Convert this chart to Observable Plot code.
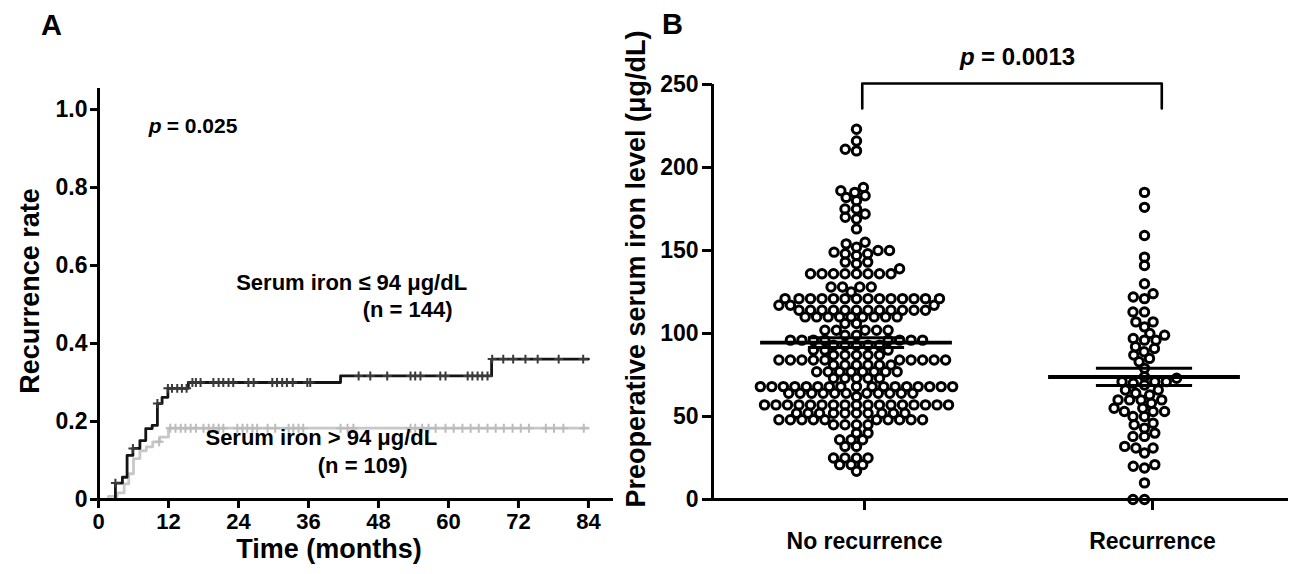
<!DOCTYPE html>
<html><head><meta charset="utf-8">
<script src="https://cdn.jsdelivr.net/npm/d3@7"></script>
<script src="https://cdn.jsdelivr.net/npm/@observablehq/plot@0.6"></script>
<style>
html,body{margin:0;padding:0;background:#fff;}
#wrap{position:relative;width:1293px;height:574px;overflow:hidden;background:#fff;font-family:"Liberation Sans",Arial,sans-serif;}
#a{position:absolute;left:0;top:0;}
#b{position:absolute;left:620px;top:0;}
.lab{position:absolute;font-weight:bold;font-size:29px;line-height:1;}
</style></head><body>
<div id="wrap"><div id="a"></div><div id="b"></div>
<div class="lab" style="left:41px;top:11px;">A</div>
<div class="lab" style="left:662px;top:10px;">B</div>
</div>
<script>
// ---------- Panel A data (Kaplan–Meier cumulative recurrence) ----------
const kmTicksX = [0, 12, 24, 36, 48, 60, 72, 84];
const kmTicksY = [0, 0.2, 0.4, 0.6, 0.8, 1.0];
const lowTime = [0, 2.9, 4.1, 4.9, 5.9, 7.1, 8.1, 9.2, 10.1, 10.9, 11.9, 15.4, 41.5, 67.4, 84];
const lowRate = [0, 0.042, 0.057, 0.113, 0.131, 0.151, 0.182, 0.19, 0.246, 0.262, 0.285, 0.30, 0.317, 0.36, 0.36];
const lowCensor = [2.9, 5.9, 10.1, 11.9, 12.6, 13.5, 14.3, 15.1, 16.1, 16.7, 17.5, 19.7, 20.6, 21.4, 22.3, 23.1, 25.7, 26.6, 29.8, 30.6, 31.5, 32.3, 33.3, 35.8, 36.3, 44.6, 46.6, 49.5, 53.5, 54.3, 55.2, 58.6, 59.5, 63.3, 64.1, 65.0, 65.8, 66.7, 67.5, 69.4, 71.1, 73.2, 75.3, 78.9, 83.1];
const highTime = [0, 1.7, 3.2, 4.4, 5.2, 6.0, 7.1, 8.2, 9.3, 10.5, 12.0, 84];
const highRate = [0, 0.008, 0.017, 0.04, 0.066, 0.105, 0.125, 0.135, 0.148, 0.16, 0.183, 0.183];
const highCensor = [10.4, 12.3, 13.2, 14.1, 14.9, 15.8, 16.7, 18.0, 18.9, 19.7, 20.6, 21.4, 23.8, 24.7, 25.5, 26.4, 27.2, 29.0, 30.3, 32.6, 33.4, 34.3, 35.1, 41.5, 42.7, 43.7, 53.5, 54.3, 55.5, 56.6, 57.8, 59.5, 60.9, 62.4, 63.8, 65.2, 66.7, 68.1, 69.5, 71.0, 72.4, 73.8, 76.7, 78.1, 79.7, 83.2];

// ---------- Panel B data (serum iron, μg/dL) ----------
const groups = ["No recurrence", "Recurrence"];
const ironTicks = [0, 50, 100, 150, 200, 250];
const noRecurrence = [
 223, 216, 211, 210,
 188, 186, 185, 183, 182, 180, 175, 175, 172, 170, 169, 163,
 155, 154, 152, 150, 150, 149, 148, 148, 147,
 143, 143, 142, 139,
 136, 136, 136, 136, 136, 136, 136, 136,
 128, 128, 128, 128,
 125,
 121, 121, 121, 121, 121, 121, 121, 121, 121, 121, 121, 121, 121, 121,
 117, 117, 117,
 114, 114, 114, 114, 114, 114, 114, 114, 114, 114, 114, 114,
 110, 110, 110, 110, 110, 110, 110, 110, 110,
 106, 106,
 102, 102, 102, 102, 102,
 99, 99,
 96, 96, 96, 96, 96, 96, 96, 96,
 93, 93, 93, 93, 93,
 90, 90, 90,
 87, 87, 87, 87, 87,
 84, 84, 84, 84, 84, 84, 84, 84, 84, 84,
 81, 81, 81, 81, 81, 81,
 77, 77, 77, 77, 77, 77, 77, 77,
 73, 73, 73, 73, 73,
 68, 68, 68, 68, 68, 68, 68, 68, 68, 68, 68, 68, 68, 68, 68, 68, 68,
 64, 64, 64, 64, 64, 64, 64, 64, 64, 64, 64,
 62,
 57, 57, 57, 57, 57, 57, 57, 57, 57, 57, 57, 57, 57, 57, 57, 57, 57,
 52, 52, 52, 52, 52, 52, 52, 52, 52, 52,
 48, 48, 48, 48, 48, 48, 48, 48, 48, 48,
 45, 45, 45, 45,
 40, 40,
 36, 36, 36,
 32, 32,
 25, 25, 25, 25,
 21, 21, 21,
 17
];
const recurrence = [185, 176, 159, 146, 141, 130, 124, 122, 121, 113, 113, 107, 107, 104, 100, 99, 97, 96, 96, 92, 91, 89, 87, 85, 83, 79, 74, 73, 71, 71, 71, 70, 69, 66, 66, 64, 63, 60, 60, 60, 60, 58, 55, 55, 53, 53, 53, 50, 50, 46, 45, 43, 40, 38, 38, 32, 31, 31, 28, 21, 20, 19, 10, 0, 0];
const groupMean = [94.5, 73.8];
const groupSem = [3.0, 5.2];
const bracketX = [1.02, 2.06];
const bracketY = [250.6, 235.5];

const FONT = '"Liberation Sans", Arial, sans-serif';

// ---------- Panel A ----------
function stepAt(times, rates, t) {
  const i = d3.bisectRight(times, t) - 1;
  return rates[Math.max(0, i)];
}
const lowSteps = lowTime.map((t, i) => ({t, r: lowRate[i]}));
const highSteps = highTime.map((t, i) => ({t, r: highRate[i]}));
const lowMarks = lowCensor.map(t => ({t, r: stepAt(lowTime, lowRate, t)}));
const highMarks = highCensor.map(t => ({t, r: stepAt(highTime, highRate, t)}));

const plotA = Plot.plot({
  width: 620, height: 574,
  marginLeft: 98, marginRight: 7, marginTop: 88, marginBottom: 75,
  x: {domain: [0, 88.3], axis: null},
  y: {domain: [0, 1.054], axis: null},
  style: {fontFamily: FONT, fontWeight: "bold", color: "#000", background: "#fff", overflow: "visible"},
  marks: [
    Plot.axisX({ticks: kmTicksX, tickSize: 9, tickPadding: 5, fontSize: 22, strokeWidth: 3, label: null, fontWeight: "bold"}),
    Plot.axisY({ticks: kmTicksY, tickSize: 8, tickPadding: 3, fontSize: 23, strokeWidth: 3, label: null, fontWeight: "bold",
      tickFormat: d => d === 0 ? "0" : d.toFixed(1)}),
    Plot.line(highSteps, {x: "t", y: "r", curve: "step-after", stroke: "#c8c8c8", strokeWidth: 2.8}),
    Plot.dot(highMarks, {x: "t", y: "r", symbol: "plus", r: 3, stroke: "#bcbcbc", strokeWidth: 2}),
    Plot.line(lowSteps, {x: "t", y: "r", curve: "step-after", stroke: "#141414", strokeWidth: 2.8}),
    Plot.dot(lowMarks, {x: "t", y: "r", symbol: "plus", r: 3, stroke: "#3a3a3a", strokeWidth: 2}),
    Plot.ruleX([0], {stroke: "#000", strokeWidth: 3}),
    Plot.ruleY([0], {stroke: "#000", strokeWidth: 3}),
    Plot.text(["p"], {x: 8.6, y: 0.957, textAnchor: "start", fontSize: 21, fontStyle: "italic"}),
    Plot.text(["= 0.025"], {x: 8.6, y: 0.957, dx: 18, textAnchor: "start", fontSize: 21}),
    Plot.text(["Serum iron \u2264 94 \u03bcg/dL"], {x: 43.4, y: 0.556, fontSize: 22}),
    Plot.text(["(n = 144)"], {x: 53, y: 0.486, fontSize: 22}),
    Plot.text(["Serum iron > 94 \u03bcg/dL"], {x: 38.2, y: 0.159, fontSize: 22}),
    Plot.text(["(n = 109)"], {x: 45.3, y: 0.087, fontSize: 22}),
    Plot.text(["Time (months)"], {frameAnchor: "bottom", textAnchor: "middle", lineAnchor: "middle", dx: -27, dy: 50, fontSize: 27}),
    Plot.text(["Recurrence rate"], {frameAnchor: "left", textAnchor: "middle", lineAnchor: "middle", rotate: -90, dx: -68, dy: -3, fontSize: 27})
  ]
});
document.getElementById("a").appendChild(plotA);

// ---------- Panel B ----------
const yB = Plot.scale({y: {domain: [0, 250], range: [499, 84]}});
const xB = Plot.scale({x: {domain: [0.5, 2.5], range: [92, 668]}});

function swarm(values, sx, sy) {
  const order = d3.range(values.length).sort((a, b) => values[a] - values[b]);
  const placed = [];
  const X = new Array(values.length);
  for (const i of order) {
    const y = yB.apply(values[i]);
    const near = placed.filter(p => Math.abs(p.y - y) < sy);
    const need = p => sx * Math.sqrt(1 - ((p.y - y) / sy) ** 2);
    const cands = [0];
    for (const p of near) { const d = need(p); cands.push(p.x - d, p.x + d); }
    cands.sort((a, b) => Math.abs(a) - Math.abs(b) || a - b);
    let best = 0;
    for (const c of cands) {
      if (near.every(p => Math.abs(c - p.x) >= need(p) - 1e-6)) { best = c; break; }
    }
    X[i] = best;
    placed.push({x: best, y});
  }
  return X;
}

const points = [];
[noRecurrence, recurrence].forEach((vals, gi) => {
  const offs = swarm(vals, 11.5, 7.5);
  const cx = xB.apply(gi + 1);
  vals.forEach((v, k) => points.push({group: groups[gi], x: xB.invert(cx + offs[k]), value: v}));
});
const stats = groups.map((g, i) => ({g, c: i + 1, mean: groupMean[i], lo: groupMean[i] - groupSem[i], hi: groupMean[i] + groupSem[i]}));
const bracket = [
  {x: bracketX[0], y: bracketY[1]}, {x: bracketX[0], y: bracketY[0]},
  {x: bracketX[1], y: bracketY[0]}, {x: bracketX[1], y: bracketY[1]}
];
const bracketMid = (bracketX[0] + bracketX[1]) / 2;

const plotB = Plot.plot({
  width: 673, height: 574,
  marginLeft: 92, marginRight: 5, marginTop: 84, marginBottom: 75,
  x: {domain: [0.5, 2.5], axis: null},
  y: {domain: [0, 250], axis: null},
  style: {fontFamily: FONT, fontWeight: "bold", color: "#000", background: "#fff", overflow: "visible"},
  marks: [
    Plot.axisY({ticks: ironTicks, tickSize: 10, tickPadding: 4, fontSize: 23, strokeWidth: 3, label: null, fontWeight: "bold"}),
    Plot.axisX({ticks: [1, 2], tickFormat: d => groups[d - 1], tickSize: 11, tickPadding: 22, fontSize: 23, strokeWidth: 3, label: null, fontWeight: "bold", dx: 8}),
    Plot.ruleX([0.5], {y1: 0, y2: 250, stroke: "#000", strokeWidth: 3}),
    Plot.ruleY([0], {stroke: "#000", strokeWidth: 3}),
    Plot.dot(points, {x: "x", y: "value", r: 4.2, stroke: "#000", strokeWidth: 3, fill: "none"}),
    Plot.ruleY(stats, {y: "mean", x1: d => d.c - 0.333, x2: d => d.c + 0.333, stroke: "#000", strokeWidth: 3.8}),
    Plot.ruleY(stats, {y: "lo", x1: d => d.c - 0.167, x2: d => d.c + 0.167, stroke: "#000", strokeWidth: 3}),
    Plot.ruleY(stats, {y: "hi", x1: d => d.c - 0.167, x2: d => d.c + 0.167, stroke: "#000", strokeWidth: 3}),
    Plot.line(bracket, {x: "x", y: "y", stroke: "#000", strokeWidth: 2.6, curve: "linear"}),
    Plot.text(["p"], {x: bracketMid, y: 266.3, dx: -52, textAnchor: "start", fontSize: 24, fontStyle: "italic"}),
    Plot.text(["= 0.0013"], {x: bracketMid, y: 266.3, dx: -31, textAnchor: "start", fontSize: 24}),
    Plot.text(["Preoperative serum iron level (\u03bcg/dL)"], {frameAnchor: "left", textAnchor: "middle", lineAnchor: "middle", rotate: -90, dx: -76, dy: -23, fontSize: 27})
  ]
});
document.getElementById("b").appendChild(plotB);
</script>
</body></html>
